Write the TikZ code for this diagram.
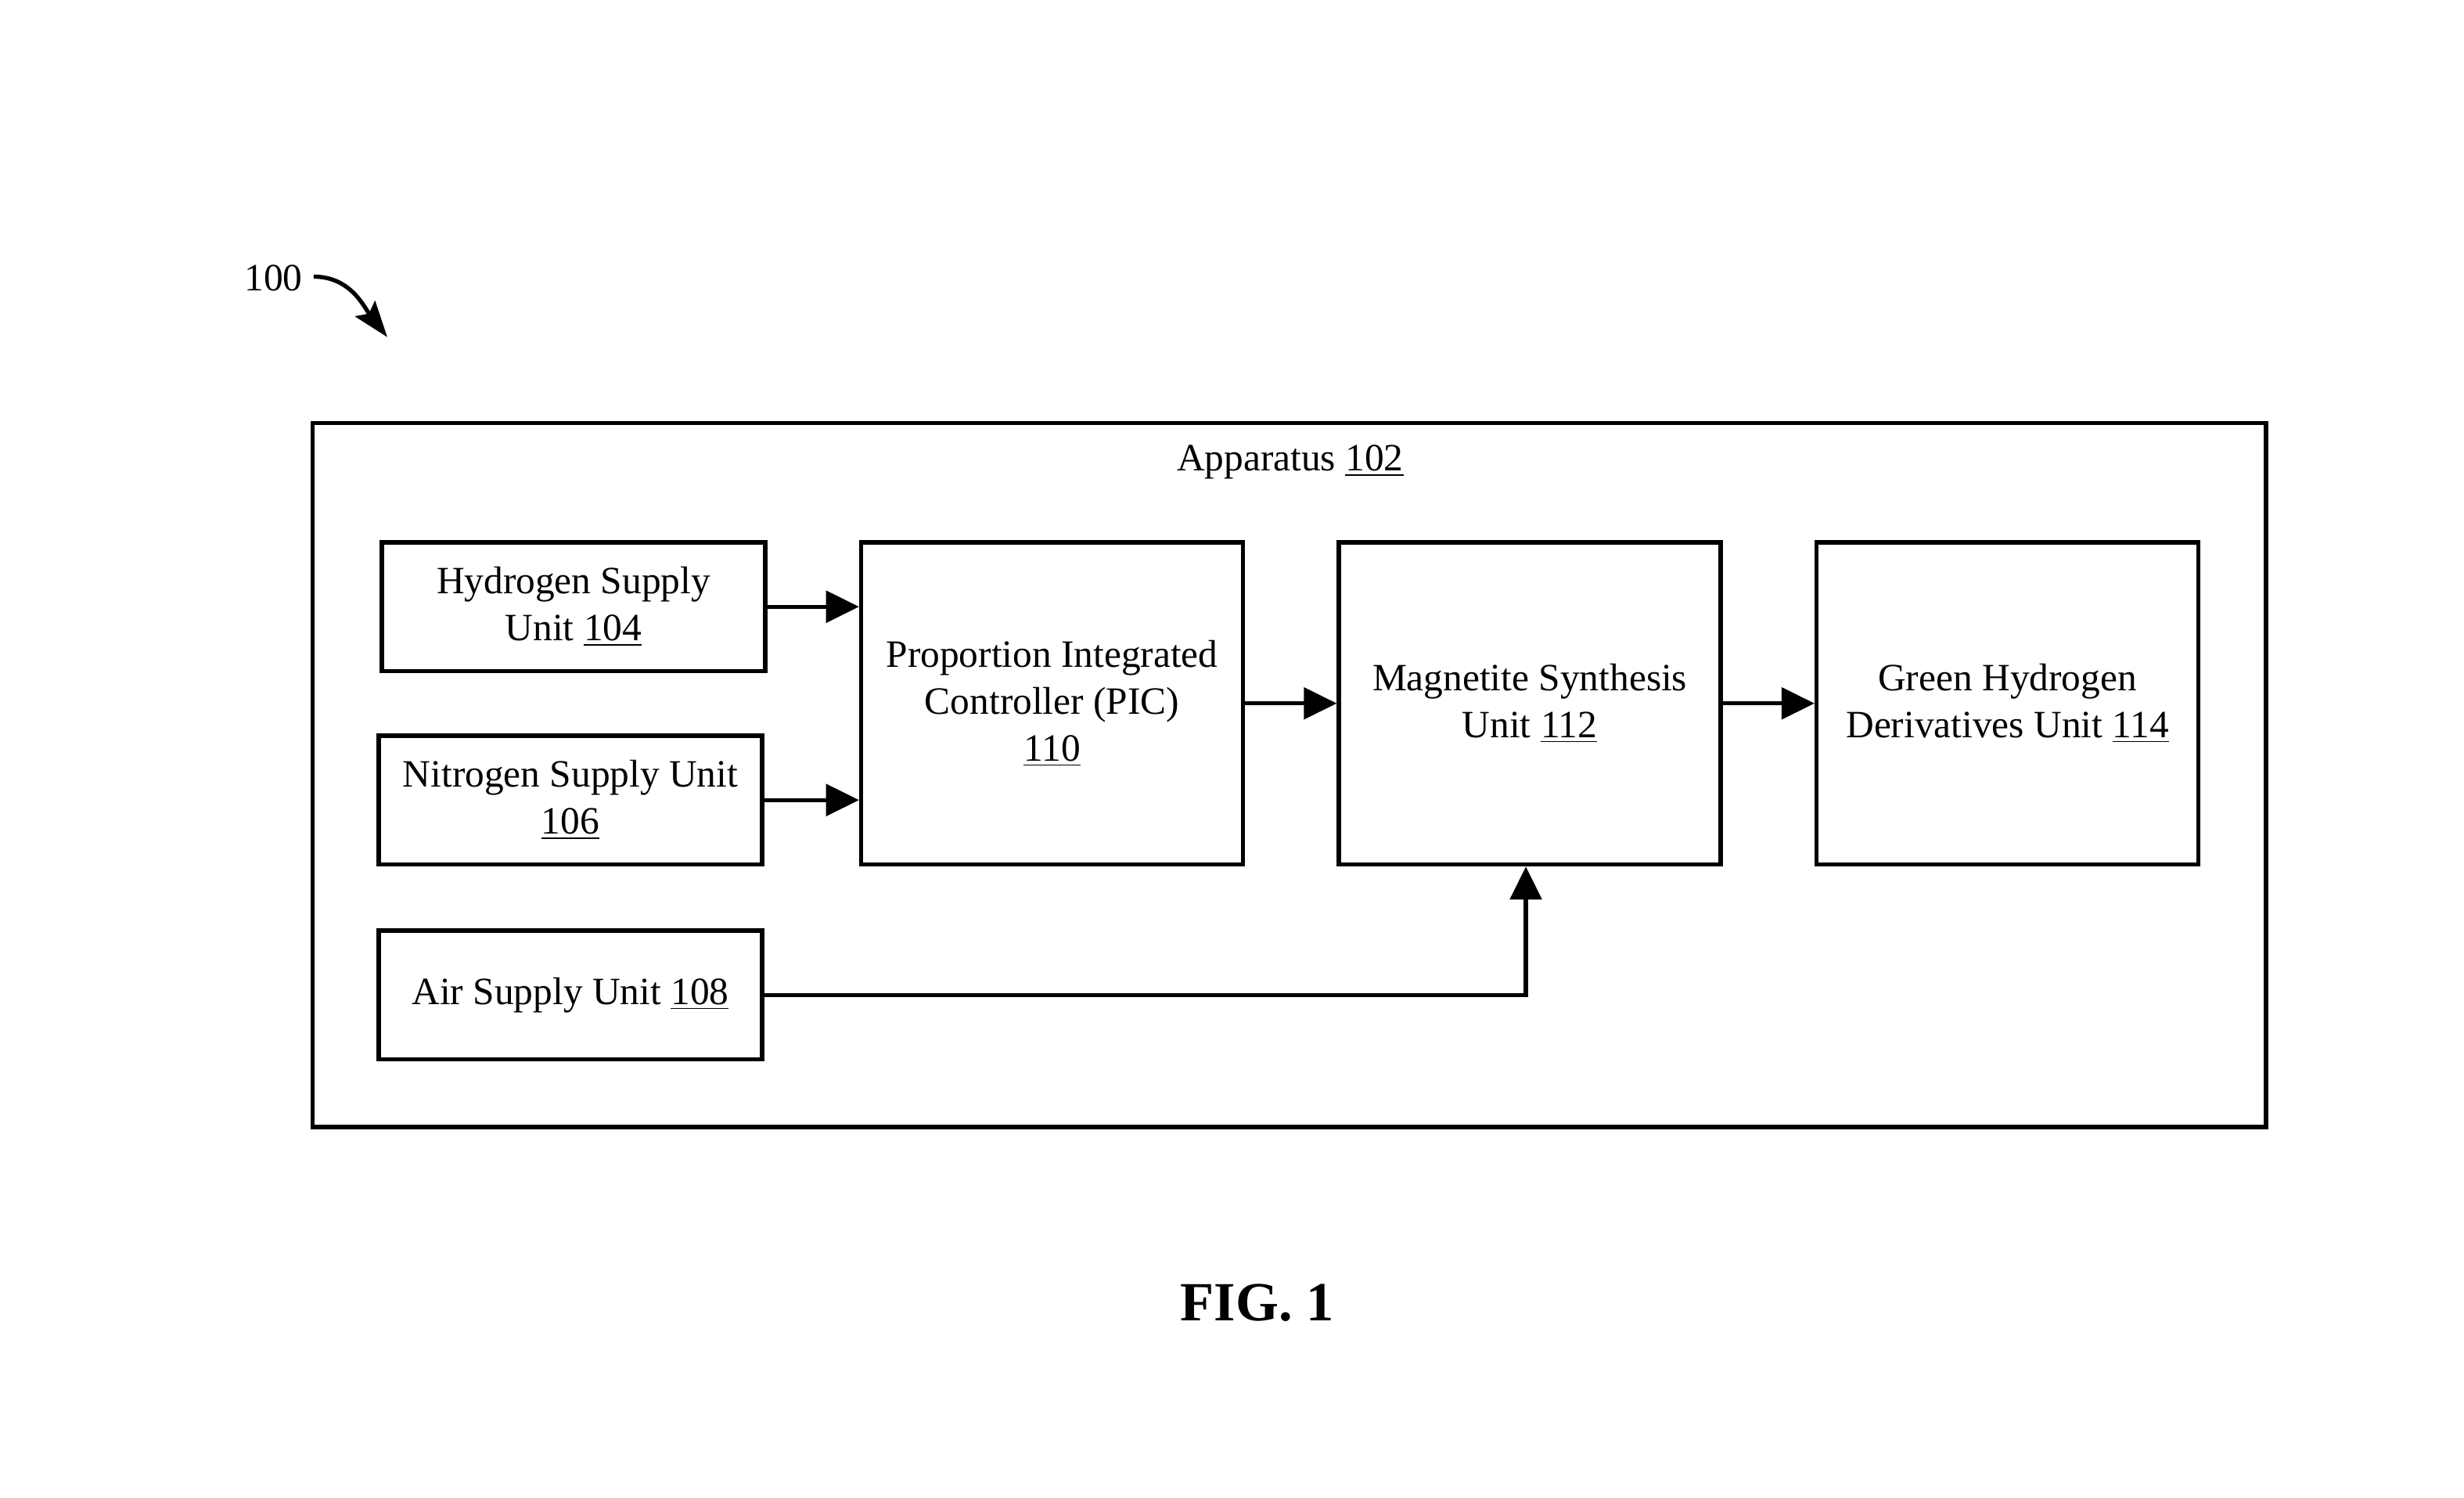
\documentclass[tikz,border=0pt]{standalone}
\usepackage{fontspec}
\setmainfont{Liberation Serif}
\usetikzlibrary{
    arrows.meta     % 箭头样式
}

\begin{document}
\begin{tikzpicture}[
    >={Triangle[length=0.42cm,width=0.4cm]},
    line width=1.5pt,
    font=\fontsize{14}{17}\selectfont,
    unit/.style={draw, minimum width=4.88cm, minimum height=1.64cm, align=center, inner sep=0pt},
    bigunit/.style={unit, minimum width=4.86cm, minimum height=4.10cm}
]
    \useasboundingbox (0,0) rectangle (31.36,-19.06);

    % 图号与弯箭头
    \node (ref) at (3.48,-3.54) {100};
    \coordinate (refend) at (4.93,-4.29);
    \draw[-{Stealth[length=0.46cm,width=0.32cm,inset=0.08cm]}] ([yshift=0.02cm]ref.east) to[out=0,in=128] (refend);

    % 外框
    \draw (3.98,-5.38) rectangle (28.84,-14.34);
    \node (app) at (16.42,-5.88) {Apparatus \underline{102}};

    % 左侧供给单元
    \node[unit] (hyd) at (7.30,-7.72) {Hydrogen Supply\\Unit \underline{104}};
    \node[unit] (nit) at (7.26,-10.18) {Nitrogen Supply Unit\\\underline{106}};
    \node[unit] (air) at (7.26,-12.66) {Air Supply Unit \underline{108}};

    % 右侧主单元
    \node[bigunit] (pic) at (13.39,-8.95) {Proportion Integrated\\Controller (PIC)\\\underline{110}};
    \node[bigunit] (mag) at (19.47,-8.95) {Magnetite Synthesis\\Unit \underline{112}};
    \node[bigunit] (green) at (25.55,-8.95) {Green Hydrogen\\Derivatives Unit \underline{114}};

    % 箭头
    \draw[->] (hyd.east) -- (hyd.east -| pic.west);
    \draw[->] (nit.east) -- (nit.east -| pic.west);
    \draw[->] (pic.east) -- (mag.west);
    \draw[->] (mag.east) -- (green.west);
    \draw[->] (air.east) -| ([xshift=-0.05cm]mag.south);

    % 图题
    \node[font=\fontsize{20}{24}\selectfont\bfseries] (fig) at (16.0,-16.58) {FIG. 1};
\end{tikzpicture}
\end{document}
